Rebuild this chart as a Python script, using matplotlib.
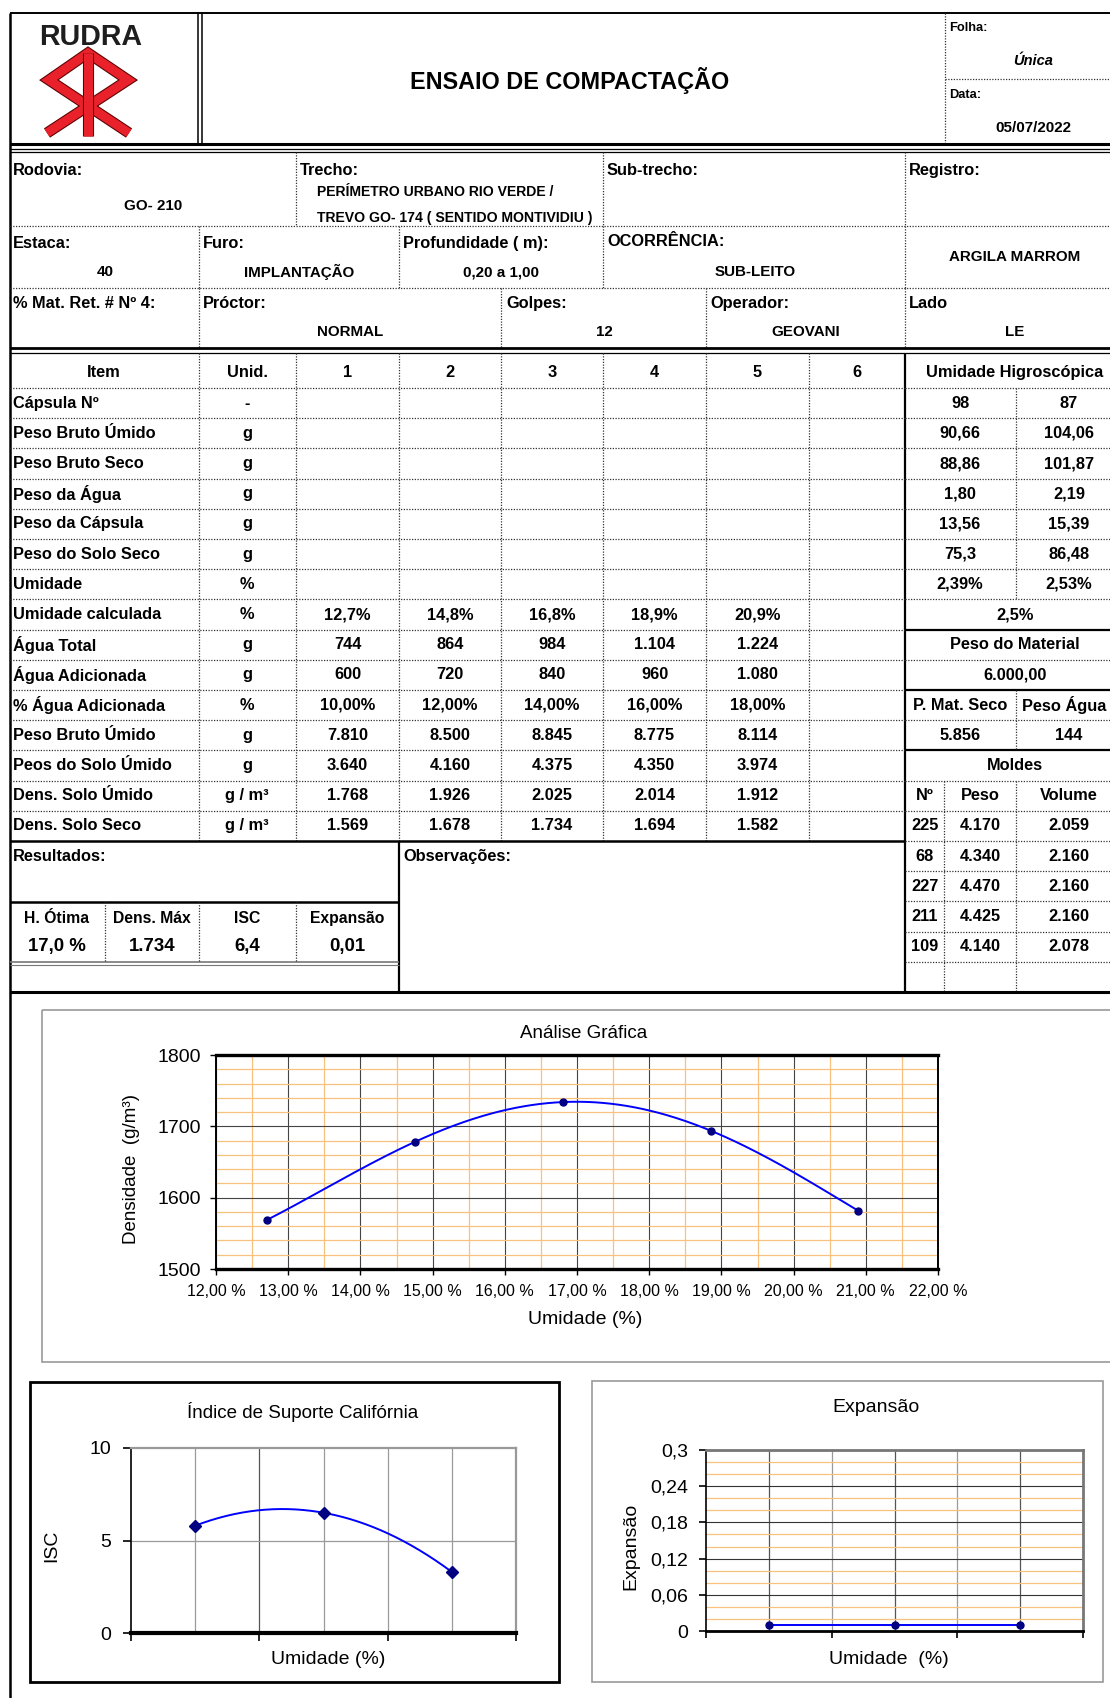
import numpy as np
import matplotlib.pyplot as plt
import matplotlib.patheffects as pe
from matplotlib import font_manager as fm
from matplotlib.patches import Rectangle
from matplotlib.ticker import MultipleLocator, FixedLocator, NullFormatter

items = ["Item", "Cápsula Nº", "Peso Bruto Úmido", "Peso Bruto Seco", "Peso da Água",
         "Peso da Cápsula", "Peso do Solo Seco", "Umidade", "Umidade calculada",
         "Água Total", "Água Adicionada", "% Água Adicionada", "Peso Bruto Úmido",
         "Peos do Solo Úmido", "Dens. Solo Úmido", "Dens. Solo Seco"]
units = ["Unid.", "-", "g", "g", "g", "g", "g", "%", "%", "g", "g", "%", "g", "g",
         "g / m³", "g / m³"]
points = ["1", "2", "3", "4", "5", "6"]
umid_calc = ["12,7%", "14,8%", "16,8%", "18,9%", "20,9%"]
agua_total = ["744", "864", "984", "1.104", "1.224"]
agua_adic = ["600", "720", "840", "960", "1.080"]
pct_agua = ["10,00%", "12,00%", "14,00%", "16,00%", "18,00%"]
bruto_umido = ["7.810", "8.500", "8.845", "8.775", "8.114"]
solo_umido = ["3.640", "4.160", "4.375", "4.350", "3.974"]
dens_umido = ["1.768", "1.926", "2.025", "2.014", "1.912"]
dens_seco = ["1.569", "1.678", "1.734", "1.694", "1.582"]

hig_a = ["98", "90,66", "88,86", "1,80", "13,56", "75,3", "2,39%"]
hig_b = ["87", "104,06", "101,87", "2,19", "15,39", "86,48", "2,53%"]
hig_media = "2,5%"
peso_material = "6.000,00"
mat_seco, peso_agua = "5.856", "144"
molde_n = ["225", "68", "227", "211", "109"]
molde_peso = ["4.170", "4.340", "4.470", "4.425", "4.140"]
molde_vol = ["2.059", "2.160", "2.160", "2.160", "2.078"]

res_head = ["H. Ótima", "Dens. Máx", "ISC", "Expansão"]
res_vals = ["17,0 %", "1.734", "6,4", "0,01"]

compact_umid = [12.71, 14.75, 16.80, 18.85, 20.89]
compact_dens = [1569, 1678, 1734, 1694, 1582]
isc_x = [1, 3, 5]
isc_vals = [5.8, 6.5, 3.3]
exp_x = [1, 3, 5]
exp_vals = [0.01, 0.01, 0.01]

# ---- fonts ----
names = {f.name for f in fm.fontManager.ttflist}
if "Liberation Sans Narrow" in names:
    NARROW, K = "Liberation Sans Narrow", 1.0
else:
    NARROW, K = "Liberation Sans", 0.84
SANS = "Liberation Sans"

W, H = 1110, 1698
fig = plt.figure(figsize=(W / 100, H / 100), dpi=100)
ax = fig.add_axes([0, 0, 1, 1])
ax.set_xlim(0, W)
ax.set_ylim(H, 0)
ax.axis("off")

DOT = (0, (1, 1.2))


def hl(y, x0, x1, lw=1.0, ls="-", c="black"):
    ax.plot([x0, x1], [y, y], color=c, lw=lw, ls=ls, solid_capstyle="butt")


def vl(x, y0, y1, lw=1.0, ls="-", c="black"):
    ax.plot([x, x], [y0, y1], color=c, lw=lw, ls=ls, solid_capstyle="butt")


def hd(y, x0, x1):
    hl(y, x0, x1, lw=0.9, ls=DOT, c="#333333")


def vd(x, y0, y1):
    vl(x, y0, y1, lw=0.9, ls=DOT, c="#333333")


def tx(x, y, s, size=14, ha="center", weight="bold", style="normal", family=None, color="black"):
    ax.text(x, y, s, fontsize=size * K if family is None else size, ha=ha, va="center",
            fontweight=weight, fontstyle=style, family=family or NARROW, color=color)


# ---- header ----
hl(13, 10, W, lw=1.4)
vl(10, 13, H, lw=1.8)
vl(198, 13, 144, lw=1.1)
vl(202, 13, 144, lw=1.1)
vd(945, 13, 144)
hd(79, 945, W)
hl(144, 10, W, lw=2.2)
hl(148.5, 10, W, lw=0.9)
hl(151.5, 10, W, lw=0.9)

tx(91, 37, "RUDRA", size=24.5, color="#1e1e1e")
logo = ax.plot([47, 128, 88, 49, 129], [133, 80, 53, 80, 133], color="#E8212B", lw=6.5,
               solid_joinstyle="miter", solid_capstyle="butt")
logo += ax.plot([88, 88], [53, 136], color="#E8212B", lw=6.5, solid_capstyle="butt")
for ln in logo:
    ln.set_path_effects([pe.Stroke(linewidth=8, foreground="#5a0000"), pe.Normal()])

tx(570, 80, "ENSAIO DE COMPACTAÇÃO", size=20)
tx(949, 28, "Folha:", size=11, ha="left")
tx(1033, 61, "Única", size=12.5, style="italic")
tx(949, 95, "Data:", size=11, ha="left")
tx(1033, 128, "05/07/2022", size=13)

# ---- identification block ----
hd(226, 10, W)
hd(288, 10, W)
for x in (296, 603, 905):
    vd(x, 152, 226)
for x in (199, 399, 603, 905):
    vd(x, 226, 288)
for x in (199, 501, 706, 905):
    vd(x, 288, 348)
hl(348, 10, W, lw=2.0)
hl(353, 10, W, lw=0.9)

tx(13, 170, "Rodovia:", ha="left")
tx(153, 206, "GO- 210", size=13)
tx(300, 170, "Trecho:", ha="left")
tx(317, 192, "PERÍMETRO URBANO RIO VERDE /", size=12, ha="left")
tx(317, 218, "TREVO GO- 174 ( SENTIDO MONTIVIDIU )", size=12, ha="left")
tx(607, 170, "Sub-trecho:", ha="left")
tx(909, 170, "Registro:", ha="left")

tx(13, 243, "Estaca:", ha="left")
tx(105, 272, "40", size=13)
tx(203, 243, "Furo:", ha="left")
tx(299, 272, "IMPLANTAÇÃO", size=13)
tx(403, 243, "Profundidade ( m):", ha="left")
tx(501, 272, "0,20 a 1,00", size=13)
tx(607, 241, "OCORRÊNCIA:", ha="left")
tx(755, 272, "SUB-LEITO", size=13)
tx(1015, 257, "ARGILA MARROM", size=13)

tx(13, 303, "% Mat. Ret. # Nº 4:", ha="left")
tx(203, 303, "Próctor:", ha="left")
tx(350, 332, "NORMAL", size=13)
tx(506, 303, "Golpes:", ha="left")
tx(604, 332, "12", size=13)
tx(710, 303, "Operador:", ha="left")
tx(806, 332, "GEOVANI", size=13)
tx(909, 303, "Lado", ha="left")
tx(1015, 332, "LE", size=13)

# ---- main table ----
RH = 30.2
B0 = 388.0
b = [B0 + i * RH for i in range(21)]          # b[0] = bottom of header row
cy = [372.0] + [B0 + (i - 0.5) * RH for i in range(1, 21)]
col_x = [199, 296, 399, 501, 603, 706, 809]
col_c = [(col_x[i] + col_x[i + 1]) / 2 for i in range(1, 6)] + [857]

for x in col_x:
    vd(x, 353, b[15])
vl(905, 353, b[20], lw=1.6)
for i in range(0, 15):
    hd(b[i], 10, 905)
hl(b[15], 10, 905, lw=1.8)
for i in range(0, 20):
    if i in (8, 10, 12):
        hl(b[i], 905, W, lw=1.6)
    else:
        hd(b[i], 905, W)
vd(1016, b[0], b[7])
vd(1016, b[10], b[12])
vd(1016, b[13], b[20])
vd(944, b[13], b[20])

for i, (it, un) in enumerate(zip(items, units)):
    if i == 0:
        tx(104, cy[i], it)
    else:
        tx(13, cy[i], it, ha="left")
    tx(247, cy[i], un)
for j, p in enumerate(points):
    tx(col_c[j], cy[0], p)
body = [umid_calc, agua_total, agua_adic, pct_agua, bruto_umido, solo_umido, dens_umido, dens_seco]
for k, row in enumerate(body):
    for j, v in enumerate(row):
        tx(col_c[j], cy[8 + k], v)

# right-hand block
tx(1015, cy[0], "Umidade Higroscópica")
for k in range(7):
    tx(960, cy[1 + k], hig_a[k])
    tx(1069, cy[1 + k], hig_b[k])
tx(1015, cy[8], hig_media)
tx(1015, cy[9], "Peso do Material")
tx(1015, cy[10], peso_material)
tx(960, cy[11], "P. Mat. Seco")
tx(1064, cy[11], "Peso Água")
tx(960, cy[12], mat_seco)
tx(1069, cy[12], peso_agua)
tx(1015, cy[13], "Moldes")
tx(925, cy[14], "Nº")
tx(980, cy[14], "Peso")
tx(1069, cy[14], "Volume")
for k in range(5):
    tx(925, cy[15 + k], molde_n[k])
    tx(980, cy[15 + k], molde_peso[k])
    tx(1069, cy[15 + k], molde_vol[k])

# results / observations
vl(399, b[15], b[20], lw=1.6)
hl(902, 10, 399, lw=1.8)
hl(962, 10, 399, lw=1.2, c="#777777")
hl(965, 10, 399, lw=0.8, c="#777777")
for x in (105, 199, 296):
    vd(x, 902, 962)
hl(b[20], 10, W, lw=2.2)
tx(13, cy[16], "Resultados:", ha="left")
tx(403, cy[16], "Observações:", ha="left")
res_c = [57, 152, 247, 347]
for c, h_, v in zip(res_c, res_head, res_vals):
    tx(c, 918, h_, size=13.5)
    tx(c, 946, v, size=16)

# ---- charts ----
def chart_axes(x0, y0, x1, y1):
    return fig.add_axes([x0 / W, 1 - y1 / H, (x1 - x0) / W, (y1 - y0) / H])


NAVY = "#000080"
BLUE = "#0000FF"
ORANGE = "#F8C27E"

# compaction curve
ax.add_patch(Rectangle((42, 1010), W, 352, fill=False, edgecolor="#999999", lw=1.2))
a1 = chart_axes(216, 1055, 938, 1269)
a1.set_xlim(12, 22)
a1.set_ylim(1500, 1800)
a1.xaxis.set_major_locator(MultipleLocator(1))
a1.xaxis.set_minor_locator(MultipleLocator(0.5))
a1.yaxis.set_major_locator(MultipleLocator(100))
a1.yaxis.set_minor_locator(MultipleLocator(20))
a1.grid(which="minor", color=ORANGE, lw=0.9)
a1.grid(which="major", color="#444444", lw=0.8)
a1.set_axisbelow(True)
a1.set_xticklabels([f"{v:.2f} %".replace(".", ",") for v in a1.get_xticks()],
                   fontsize=11.5, family=SANS)
a1.set_yticklabels([f"{v:.0f}" for v in a1.get_yticks()], fontsize=14, family=SANS)
a1.tick_params(which="minor", length=0)
a1.tick_params(which="major", direction="out", length=4, width=1, pad=7)
for s in ("top", "bottom"):
    a1.spines[s].set_linewidth(2.4)
for s in ("left", "right"):
    a1.spines[s].set_linewidth(1.4)
fit = np.polynomial.Polynomial.fit(compact_umid, compact_dens, 4)
xs = np.linspace(compact_umid[0], compact_umid[-1], 300)
a1.plot(xs, fit(xs), color=BLUE, lw=1.4)
a1.plot(compact_umid, compact_dens, "o", color=NAVY, ms=5)
tx(584, 1034, "Análise Gráfica", size=13.5, weight="normal", family=SANS)
tx(585, 1320, "Umidade (%)", size=14, weight="normal", family=SANS)
ax.text(132, 1169, "Densidade  (g/m³)", rotation=90, fontsize=13.5, family=SANS,
        ha="center", va="center")

# ISC
ax.add_patch(Rectangle((30, 1382), 529, 300, fill=False, edgecolor="black", lw=2))
a2 = chart_axes(131, 1448, 516, 1633)
a2.set_xlim(0, 6)
a2.set_ylim(0, 10)
a2.set_yticks([0, 5, 10])
a2.set_yticklabels(["0", "5", "10"], fontsize=14, family=SANS)
a2.xaxis.set_major_locator(FixedLocator([0, 2, 4, 6]))
a2.xaxis.set_major_formatter(NullFormatter())
for v in range(1, 6):
    a2.axvline(v, color="#555555" if v == 2 else "#9a9a9a", lw=0.9, zorder=0)
a2.axhline(5, color="#9a9a9a", lw=0.9, zorder=0)
a2.tick_params(direction="out", length=6, width=1.2, pad=8)
a2.spines["bottom"].set_linewidth(3)
a2.spines["left"].set_linewidth(1.2)
for s in ("top", "right"):
    a2.spines[s].set_color("#999999")
    a2.spines[s].set_linewidth(1.6)
q = np.polynomial.Polynomial.fit(isc_x, isc_vals, 2)
xs = np.linspace(isc_x[0], isc_x[-1], 200)
a2.plot(xs, q(xs), color=BLUE, lw=1.4)
a2.plot(isc_x, isc_vals, "D", color=NAVY, ms=6)
tx(303, 1412, "Índice de Suporte Califórnia", size=13.5, weight="normal", family=SANS)
tx(328, 1660, "Umidade (%)", size=14, weight="normal", family=SANS)
ax.text(52, 1546, "ISC", rotation=90, fontsize=14, family=SANS, ha="center", va="center")

# Expansion
ax.add_patch(Rectangle((592, 1381), 511, 301, fill=False, edgecolor="#999999", lw=1.2))
a3 = chart_axes(706, 1450, 1083, 1631)
a3.set_xlim(0, 6)
a3.set_ylim(0, 0.3)
yt = [0, 0.06, 0.12, 0.18, 0.24, 0.3]
a3.set_yticks(yt)
a3.set_yticklabels(["0", "0,06", "0,12", "0,18", "0,24", "0,3"], fontsize=14, family=SANS)
a3.yaxis.set_minor_locator(MultipleLocator(0.02))
a3.grid(axis="y", which="minor", color=ORANGE, lw=0.9)
a3.grid(axis="y", which="major", color="#333333", lw=0.8)
a3.set_axisbelow(True)
a3.xaxis.set_major_locator(FixedLocator([0, 2, 4, 6]))
a3.xaxis.set_major_formatter(NullFormatter())
for v in range(1, 6):
    a3.axvline(v, color="#555555" if v % 2 else "#9a9a9a", lw=0.9, zorder=0)
a3.tick_params(which="minor", length=0)
a3.tick_params(which="major", direction="out", length=5, width=1.2, pad=8)
a3.spines["bottom"].set_linewidth(2)
a3.spines["left"].set_linewidth(1.2)
for s in ("top", "right"):
    a3.spines[s].set_color("#777777")
    a3.spines[s].set_linewidth(2)
a3.plot(exp_x, exp_vals, "-o", color=BLUE, mfc=NAVY, mec=NAVY, ms=5, lw=1.4)
tx(876, 1408, "Expansão", size=14, weight="normal", family=SANS)
tx(889, 1660, "Umidade  (%)", size=14, weight="normal", family=SANS)
ax.text(631, 1546, "Expansão", rotation=90, fontsize=14, family=SANS, ha="center", va="center")

fig.savefig("out.png", dpi=100)
